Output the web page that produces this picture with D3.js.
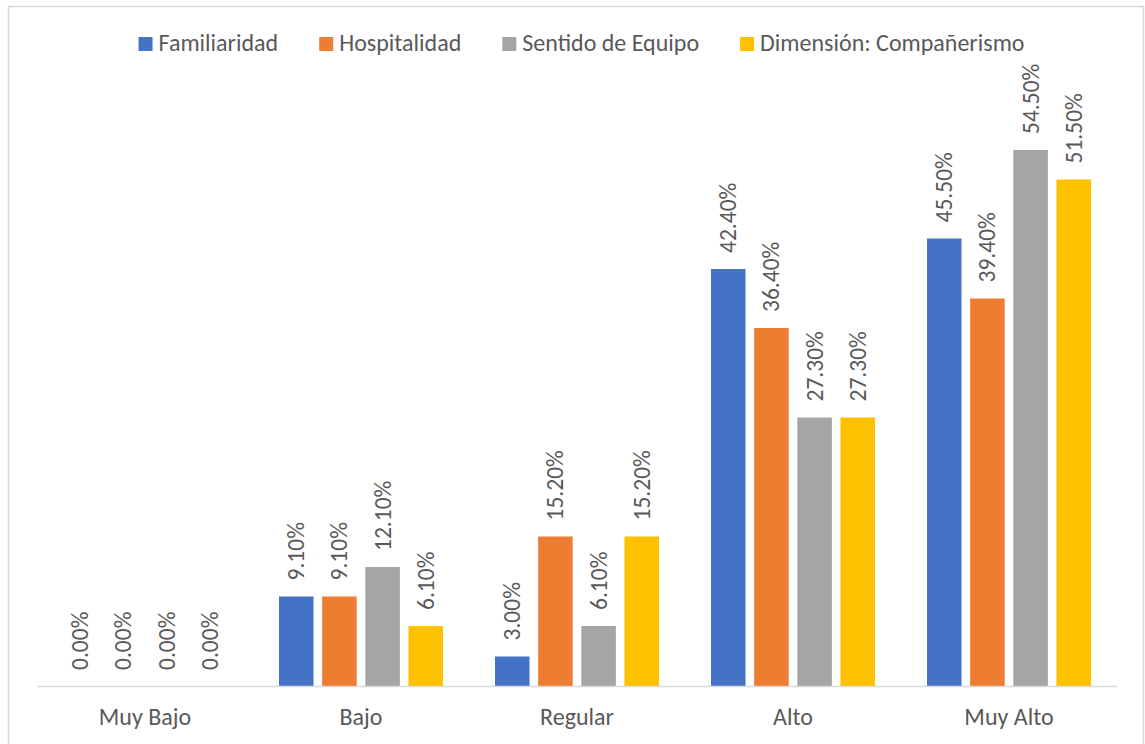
<!DOCTYPE html>
<html>
<head>
<meta charset="utf-8">
<script src="https://cdn.jsdelivr.net/npm/d3@7"></script>
<style>
  html, body { margin: 0; padding: 0; background: #ffffff; }
  svg text { font-family: Carlito, Lato, "Open Sans", sans-serif; fill: #595959; }
</style>
</head>
<body>
<svg id="chart" width="1145" height="744"></svg>
<script>
// Levels of the "Compañerismo" dimension and its indicators (percent of respondents)
const categories = ["Muy Bajo", "Bajo", "Regular", "Alto", "Muy Alto"];
const seriesNames = ["Familiaridad", "Hospitalidad", "Sentido de Equipo", "Dimensión: Compañerismo"];
const familiaridad = [0.0, 9.1, 3.0, 42.4, 45.5];
const hospitalidad = [0.0, 9.1, 15.2, 36.4, 39.4];
const sentidoEquipo = [0.0, 12.1, 6.1, 27.3, 54.5];
const companerismo = [0.0, 6.1, 15.2, 27.3, 51.5];
const seriesColors = ["#4472C4", "#ED7D31", "#A5A5A5", "#FFC000"];

const seriesValues = [familiaridad, hospitalidad, sentidoEquipo, companerismo];
const rows = categories.map((c, i) => ({
  category: c,
  values: seriesNames.map((s, j) => ({ series: s, idx: j, value: seriesValues[j][i] }))
}));

const svg = d3.select("#chart");
const textSize = 24;
const labelSize = 23.5;

// outer frame
svg.append("rect")
  .attr("x", 8.5).attr("y", 6.5)
  .attr("width", 1135).attr("height", 760)
  .attr("fill", "none").attr("stroke", "#d9d9d9").attr("stroke-width", 1.5);

const plot = { left: 37, right: 1117, bottom: 686 };

const x0 = d3.scaleBand().domain(categories).range([plot.left, plot.right]).padding(0);
const x1 = d3.scaleBand().domain(seriesNames)
  .range([26, x0.bandwidth() - 26]).paddingInner(0.2).paddingOuter(0);
const y = d3.scaleLinear().domain([0, 60]).range([plot.bottom, plot.bottom - 590.1]);

// bars
const groups = svg.append("g").selectAll("g")
  .data(rows).join("g")
  .attr("transform", d => `translate(${x0(d.category)},0)`);

groups.selectAll("rect")
  .data(d => d.values).join("rect")
  .attr("x", d => x1(d.series))
  .attr("y", d => y(d.value))
  .attr("width", x1.bandwidth())
  .attr("height", d => y(0) - y(d.value))
  .attr("fill", d => seriesColors[d.idx]);

// value labels, rotated, sitting above each bar
groups.selectAll("text")
  .data(d => d.values).join("text")
  .attr("transform", d => `translate(${x1(d.series) + x1.bandwidth() / 2},${y(d.value) - 16}) rotate(-90)`)
  .attr("text-anchor", "start")
  .attr("dominant-baseline", "central")
  .style("font-size", labelSize + "px")
  .text(d => d.value.toFixed(2) + "%");

// category axis
const xAxis = svg.append("g")
  .attr("transform", `translate(0,${plot.bottom})`)
  .call(d3.axisBottom(x0).tickSize(0).tickPadding(0));
xAxis.select(".domain").attr("stroke", "#d9d9d9").attr("stroke-width", 1.5);
xAxis.selectAll(".tick text")
  .attr("y", 39)
  .attr("dy", null)
  .style("font-size", textSize + "px")
  .style("font-family", "Carlito, Lato, 'Open Sans', sans-serif")
  .attr("fill", "#595959");

// legend, centred across the top
const legend = svg.append("g");
const items = legend.selectAll("g").data(seriesNames).join("g");
items.append("rect")
  .attr("width", 14).attr("height", 14)
  .attr("y", -14)
  .attr("fill", (d, i) => seriesColors[i]);
items.append("text")
  .attr("x", 20)
  .style("font-size", textSize + "px")
  .text(d => d);

let cursor = 0;
items.each(function () {
  const g = d3.select(this);
  g.attr("transform", `translate(${cursor},0)`);
  const w = g.select("text").node().getComputedTextLength();
  cursor += 20 + w + 41;
});
const totalW = cursor - 41;
legend.attr("transform", `translate(${581.5 - totalW / 2},51)`);
</script>
</body>
</html>
